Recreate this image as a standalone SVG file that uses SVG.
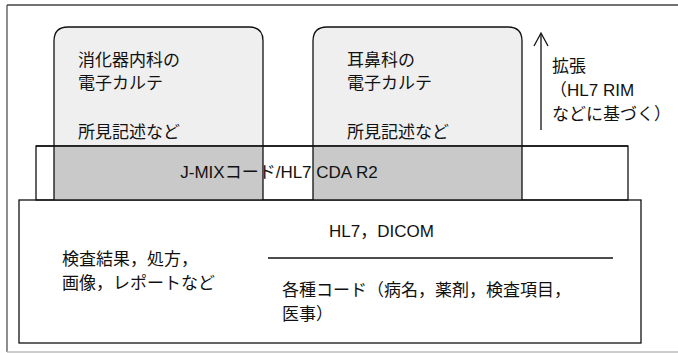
<svg xmlns="http://www.w3.org/2000/svg" width="678" height="353" viewBox="0 0 678 353">
<style>
text{font-family:"Liberation Sans","Noto Sans CJK JP",sans-serif;font-size:17px;fill:#111}
.ln{stroke:#111;stroke-width:1.3;fill:none}
.boxfill{fill:#efefef}
.ov{fill:#c9c9c9}
</style>
<rect width="678" height="353" fill="#fff"/>
<g id="frame">
<line x1="7" y1="5" x2="678" y2="5" stroke="#444" stroke-width="1.5"/>
<line x1="7" y1="5" x2="7" y2="352" stroke="#444" stroke-width="1.2"/>
<line x1="7" y1="352" x2="678" y2="352" stroke="#bbb" stroke-width="1.5"/>
</g>
<g id="fills">
<path class="boxfill" d="M54,200 V41 Q54,27 68,27 H249 Q263,27 263,41 V200 Z"/>
<path class="boxfill" d="M313,200 V41 Q313,27 327,27 H508 Q522,27 522,41 V200 Z"/>
</g>
<g id="band">
<rect x="36" y="146" width="592" height="54" fill="#fff" class="ln"/>
<rect class="ov" x="54" y="146.7" width="209" height="53"/>
<rect class="ov" x="313" y="146.7" width="209" height="53"/>
<line class="ln" x1="36" y1="146" x2="628" y2="146"/>
<text x="279" y="178" text-anchor="middle" font-size="18">J-MIXコード/HL7 CDA R2</text>
</g>
<g id="box-left">
<path class="ln" d="M54,200 V41 Q54,27 68,27 H249 Q263,27 263,41 V200"/>
<text x="78" y="66" font-size="18">消化器内科の</text>
<text x="78" y="89" font-size="18">電子カルテ</text>
<text x="78" y="138" font-size="18">所見記述など</text>
</g>
<g id="box-right">
<path class="ln" d="M313,200 V41 Q313,27 327,27 H508 Q522,27 522,41 V200"/>
<text x="347" y="66" font-size="18">耳鼻科の</text>
<text x="347" y="89" font-size="18">電子カルテ</text>
<text x="347" y="138" font-size="18">所見記述など</text>
</g>
<g id="bottom">
<rect class="ln" x="19" y="200" width="622" height="143" fill="#fff"/>
<text x="329" y="237">HL7，DICOM</text>
<text x="62" y="265" font-size="18">検査結果，処方，</text>
<text x="62" y="289" font-size="18">画像，レポートなど</text>
<text x="282" y="296" font-size="18">各種コード（病名，薬剤，検査項目，</text>
<text x="282" y="320" font-size="18">医事）</text>
</g>
<g id="connectors">
<line class="ln" x1="268" y1="258" x2="613" y2="258"/>
<line class="ln" x1="541" y1="130" x2="541" y2="34"/>
<polyline class="ln" points="534,46 541,33 548,46"/>
</g>
<g id="label-extension">
<text x="552" y="72">拡張</text>
<text x="550" y="96">（HL7 RIM</text>
<text x="552" y="120">などに基づく）</text>
</g>
</svg>
